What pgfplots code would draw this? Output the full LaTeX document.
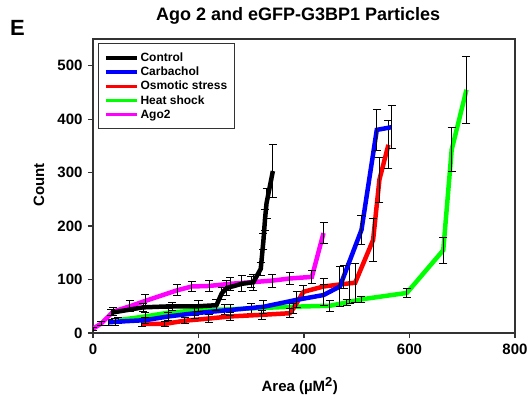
\documentclass[border=0pt]{standalone}
\usepackage{pgfplots}
\pgfplotsset{compat=1.18}
\usepackage{fontspec}
\setmainfont{Liberation Sans}
\definecolor{axgray}{HTML}{333333}
\definecolor{mag}{RGB}{255,0,255}
\definecolor{grn}{RGB}{0,255,0}
\definecolor{blu}{RGB}{0,0,255}
\definecolor{rd}{RGB}{255,0,0}
\begin{document}
\begin{tikzpicture}
\useasboundingbox (-93pt,-68pt) rectangle (434pt,333pt);
\begin{axis}[
  scale only axis, width=422pt, height=294pt,
  xmin=0, xmax=800, ymin=0, ymax=550,
  xtick={0,200,...,800}, ytick={0,100,...,500},
  tick align=outside, xtick pos=left, ytick pos=left,
  major tick length=5pt,
  axis line style={axgray, line width=1.5pt},
  every tick/.style={axgray, line width=1.2pt},
  /pgf/number format/assume math mode=true,
  ticklabel style={font=\fontsize{15}{18}\selectfont\bfseries},
  xticklabel style={yshift=-2pt},
  yticklabel style={xshift=-2pt},
  title={Ago 2 and eGFP-G3BP1 Particles},
  title style={font=\fontsize{18}{20}\selectfont\bfseries, at={(axis description cs:0.486,1)}, anchor=base, yshift=13pt},
  xlabel={Area (\textmu M\textsuperscript{\fontsize{13}{14}\selectfont 2})},
  xlabel style={font=\fontsize{15}{18}\selectfont\bfseries, at={(axis description cs:0.49,-0.18)}, anchor=center},
  ylabel={Count},
  ylabel style={font=\fontsize{15}{18}\selectfont\bfseries, at={(axis description cs:-0.128,0.503)}, anchor=center},
  legend style={at={(axis description cs:0.012,0.985)}, anchor=north west, draw=axgray, line width=1pt,
    font=\fontsize{12}{13}\selectfont\bfseries, row sep=0pt, inner ysep=7pt, inner xsep=5.5pt, cells={anchor=west}},
  legend image code/.code={\draw[#1, line width=3.5pt] (0pt,0pt) -- (31pt,0pt);},
  error bars/y dir=both, error bars/y explicit,
  error bars/error bar style={black, line width=0.9pt},
  error bars/error mark options={rotate=90, mark size=4pt, black, line width=0.9pt},
]
\addlegendimage{black}\addlegendentry{Control}
\addlegendimage{blu}\addlegendentry{Carbachol}
\addlegendimage{rd}\addlegendentry{Osmotic stress}
\addlegendimage{grn}\addlegendentry{Heat shock}
\addlegendimage{mag}\addlegendentry{Ago2}

% Heat shock
\addplot[grn, line width=4.5pt, forget plot] table[x=x, y=y, y error=e] {
x y e
48 24 6
99 31 8
143 38 8
193 42 10
250 44 10
300 46 10
373 49 12
449 51 10
481 57 5
509 63 5
595 75 9
664 155 24
680 343 41
708 455 63
};
% Osmotic
\addplot[rd, line width=4.5pt, forget plot] table[x=x, y=y, y error=e] {
x y e
92 17 4
136 17 5
174 23 6
219 27 8
260 31 8
320 34 8
373 37 8
380 46 10
399 77 12
437 87 15
487 93 37
497 94 37
531 174 40
543 287 42
560 352 45
};
% Carbachol
\addplot[blu, line width=4.5pt, forget plot] table[x=x, y=y, y error=e] {
x y e
30 20 5
42 21 6
99 24 6
143 31 8
193 37 10
260 43 10
323 49 12
386 62 15
437 71 20
468 87 37
475 105 22
509 193 27
538 380 39
566 385 40
};
% Ago2
\addplot[mag, line width=4.5pt, forget plot] table[x=x, y=y, y error=e] {
x y e
0 8 3
16 18 4
38 40 8
70 50 10
99 60 12
160 80 10
187 87 10
220 88 10
260 92 12
300 95 10
340 98 12
373 102 12
415 105 12
437 187 19
};
% Control
\addplot[black, line width=4.5pt, forget plot] table[x=x, y=y, y error=e] {
x y e
35 38 6
95 48 8
150 50 8
200 50 10
234 52 10
244 74 12
253 84 14
282 92 15
304 95 15
318 120 12
323 172 15
326 212 20
329 243 28
341 303 50
};
\end{axis}
\node[anchor=base west, inner sep=0pt] at (-83pt,297pt) {\fontsize{22}{22}\selectfont\bfseries E};
\end{tikzpicture}
\end{document}
